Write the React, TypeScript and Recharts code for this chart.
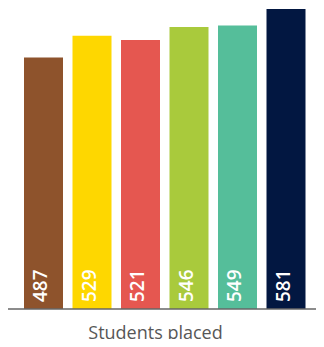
import React from 'react';
import { BarChart, Bar, XAxis, YAxis, Cell, LabelList } from 'recharts';

const categories = ['A', 'B', 'C', 'D', 'E', 'F'];
const values = [487, 529, 521, 546, 549, 581];
const colors = ['#8E532C', '#FED700', '#E55750', '#A9CA3C', '#55BE9A', '#021741'];
const axisTitle = 'Students placed';

const data = categories.map((c, i) => ({ name: c, value: values[i] }));

const FONT = '"Open Sans", "Noto Sans", sans-serif';

const VLabel = (props: any) => {
  const { x, y, width, height, value } = props;
  const tx = x + width / 2 + 3.5;
  const ty = y + height - 7;
  return (
    <text
      x={tx}
      y={ty}
      transform={`rotate(-90, ${tx}, ${ty})`}
      textAnchor="start"
      fill="#ffffff"
      fontFamily={FONT}
      fontSize={19}
      fontWeight={600}
    >
      {value}
    </text>
  );
};

const TitleLabel = (props: any) => {
  const vb = props.viewBox || {};
  const cx = vb.x + vb.width / 2 - 9.5;
  return (
    <text
      x={cx}
      y={vb.y + 30}
      textAnchor="middle"
      fill="#575757"
      fontFamily={FONT}
      fontSize={18}
    >
      {axisTitle}
    </text>
  );
};

export default function App() {
  return (
    <div style={{ margin: -8, width: 324, height: 347, background: '#fff' }}>
      <BarChart
        width={324}
        height={347}
        data={data}
        margin={{ top: 9, right: 0, bottom: 8, left: 6 }}
      >
        <XAxis
          dataKey="name"
          height={30}
          tick={false}
          tickLine={false}
          axisLine={{ stroke: '#666666', strokeWidth: 1.5 }}
          padding={{ left: 13, right: 14 }}
          label={<TitleLabel />}
        />
        <YAxis hide domain={[0, 581]} />
        <Bar dataKey="value" barSize={39} isAnimationActive={false}>
          {data.map((d, i) => (
            <Cell key={d.name} fill={colors[i]} />
          ))}
          <LabelList dataKey="value" content={<VLabel />} />
        </Bar>
      </BarChart>
    </div>
  );
}
